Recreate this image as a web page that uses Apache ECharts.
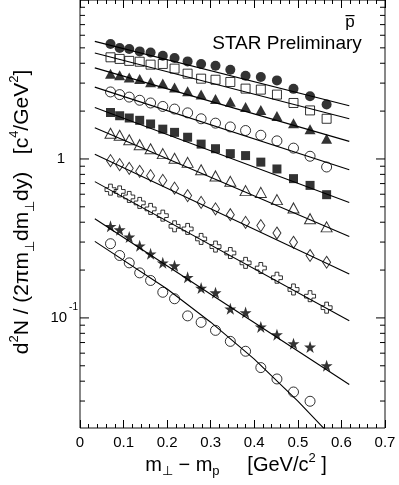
<!DOCTYPE html>
<html><head><meta charset="utf-8">
<script src="https://cdn.jsdelivr.net/npm/echarts@6/dist/echarts.min.js"></script>
<style>html,body{margin:0;padding:0;background:#fff}#c{width:399px;height:485px}</style>
</head><body><div id="c"></div>
<script>
// ---- data ----
const mtX = [0.070, 0.091, 0.113, 0.137, 0.162, 0.190, 0.217, 0.247, 0.278, 0.311, 0.345, 0.380, 0.415, 0.452, 0.490, 0.528, 0.566];
const s1 = [5.29, 4.99, 4.92, 4.75, 4.68, 4.46, 4.32, 4.11, 3.96, 3.86, 3.64, 3.34, 3.28, 3.12, 2.76, 2.48, 2.20];
const s2 = [4.36, 4.26, 4.14, 4.09, 3.92, 3.96, 3.70, 3.44, 3.20, 3.15, 3.05, 2.77, 2.73, 2.54, 2.25, 2.02, 1.79];
const s3 = [3.44, 3.36, 3.26, 3.18, 3.04, 2.98, 2.82, 2.67, 2.54, 2.38, 2.29, 2.12, 2.03, 1.86, 1.68, 1.54, 1.34];
const s4 = [2.64, 2.54, 2.45, 2.34, 2.25, 2.14, 2.06, 1.95, 1.79, 1.68, 1.59, 1.51, 1.41, 1.30, 1.17, 1.04, 0.89];
const s5 = [1.96, 1.87, 1.81, 1.75, 1.66, 1.54, 1.47, 1.37, 1.24, 1.16, 1.08, 1.05, 0.955, 0.865, 0.752, 0.682, 0.596];
const s6 = [1.45, 1.41, 1.32, 1.23, 1.16, 1.08, 1.01, 0.952, 0.856, 0.782, 0.723, 0.632, 0.616, 0.555, 0.492, 0.421, 0.374];
const s7 = [0.976, 0.921, 0.873, 0.836, 0.785, 0.733, 0.655, 0.588, 0.533, 0.485, 0.446, 0.399, 0.381, 0.342, 0.299, 0.247, 0.224];
const s8 = [0.641, 0.625, 0.577, 0.529, 0.485, 0.440, 0.377, 0.363, 0.314, 0.281, 0.256, 0.222, 0.206, 0.179, 0.151, 0.137, 0.116];
const s9 = [0.377, 0.359, 0.323, 0.284, 0.253, 0.222, 0.213, 0.180, 0.154, 0.144, 0.114, 0.108, 0.0878, 0.0785, 0.0689, 0.0657, 0.0501];
const s10 = [0.293, 0.247, 0.222, 0.192, 0.172, 0.145, 0.132, 0.103, 0.0938, 0.0835, 0.0712, 0.0617, 0.0487, 0.0413, 0.0342, 0.0299];

const fitX = [0.034, 0.618];
const fit1 = [5.49, 2.16];
const fit2 = [4.64, 1.79];
const fit3 = [3.74, 1.29];
const fit4 = [2.83, 0.855];
const fit5 = [2.11, 0.533];
const fit6 = [1.57, 0.325];
const fit7 = [1.07, 0.189];
const fit8 = [0.72, 0.096];
const fit9 = [0.421, 0.0381];
const fit10X = [0.034, 0.2, 0.3, 0.4, 0.5, 0.565];
const fit10 = [0.303, 0.152, 0.094, 0.055, 0.030, 0.0195];

const xTicks = [0, 0.1, 0.2, 0.3, 0.4, 0.5, 0.6, 0.7];
const yMin = 0.0203, yMax = 10;

// ---- styles ----
const FONT = "'Liberation Sans', Arial, Helvetica, sans-serif";
const STAR = 'path://M50,0 L61.8,35.1 L98.1,35.1 L68.6,56.9 L79.4,91.5 L50,70.2 L20.6,91.5 L31.4,56.9 L1.9,35.1 L38.2,35.1 Z';
const PLUS = 'path://M33,0 H67 V33 H100 V67 H67 V100 H33 V67 H0 V33 H33 Z';
const OPEN = {color: 'rgba(0,0,0,0)', borderColor: '#000', borderWidth: 1};
const FILL = {color: '#000', borderWidth: 0};

const markers = [
  {data: s1, symbol: 'circle', size: 10, st: FILL},
  {data: s2, symbol: 'rect', size: 9, st: OPEN},
  {data: s3, symbol: 'triangle', size: [11, 10], st: FILL},
  {data: s4, symbol: 'circle', size: 10, st: OPEN},
  {data: s5, symbol: 'rect', size: 9, st: FILL},
  {data: s6, symbol: 'triangle', size: [11, 10], st: OPEN},
  {data: s7, symbol: 'diamond', size: [8, 12], st: OPEN},
  {data: s8, symbol: PLUS, size: 11, st: OPEN},
  {data: s9, symbol: STAR, size: 12, st: FILL},
  {data: s10, symbol: 'circle', size: 10, st: OPEN}
];
const fits = [
  [fitX, fit1], [fitX, fit2], [fitX, fit3], [fitX, fit4], [fitX, fit5],
  [fitX, fit6], [fitX, fit7], [fitX, fit8], [fitX, fit9], [fit10X, fit10]
];

const zip = (xs, ys) => ys.map((y, i) => [xs[i], y]);

const series = [];
fits.forEach(([xs, ys]) => series.push({
  type: 'line', data: zip(xs, ys), showSymbol: false, symbol: 'none',
  lineStyle: {color: '#000', width: 1.1}, z: 2, silent: true, animation: false
}));
markers.forEach(m => series.push({
  type: 'scatter', data: zip(mtX, m.data), symbol: m.symbol, symbolSize: m.size,
  itemStyle: m.st, z: 3, silent: true, animation: false
}));

const chart = echarts.init(document.getElementById('c'), null, {renderer: 'canvas'});
const GL = 80, GR = 14, GT = 0, GB = 57;

const xCommon = {
  type: 'value', min: 0, max: 0.7, interval: 0.1,
  axisLine: {show: false}, splitLine: {show: false},
  axisTick: {show: true, inside: true, length: 8, lineStyle: {color: '#000', width: 1}},
  minorTick: {show: true, splitNumber: 5, length: 4, lineStyle: {color: '#000', width: 1}},
};

chart.setOption({
  animation: false,
  backgroundColor: '#fff',
  textStyle: {fontFamily: FONT},
  grid: {left: GL, right: GR, top: GT, bottom: GB, show: true, borderColor: '#111', borderWidth: 1, backgroundColor: 'transparent'},
  xAxis: [
    Object.assign({}, xCommon, {
      position: 'bottom',
      axisLabel: {show: true, fontSize: 15, color: '#000', margin: 7, fontFamily: FONT,
        formatter: v => String(Math.round(v * 10) / 10)}
    }),
    Object.assign({}, xCommon, {position: 'top', axisLabel: {show: false}})
  ],
  yAxis: {
    type: 'log', logBase: 10, min: yMin, max: yMax,
    axisLine: {show: false}, axisTick: {show: false}, splitLine: {show: false},
    axisLabel: {
      show: true, margin: 2, color: '#000', fontFamily: FONT, showMinLabel: true, showMaxLabel: true,
      formatter: v => {
        const l = Math.log10(v);
        if (Math.abs(l - Math.round(l)) > 1e-6) return '';
        const e = Math.round(l);
        if (e === 0) return '{one|1}';
        if (e === -1) return '{ten|10}{sup|-1}';
        return '';
      },
      rich: {
        one: {fontSize: 15, fontFamily: FONT, color: '#000', padding: [0, 13, 0, 0]},
        ten: {fontSize: 15, fontFamily: FONT, color: '#000', lineHeight: 32},
        sup: {fontSize: 10, fontFamily: FONT, color: '#000', lineHeight: 10, verticalAlign: 'top', padding: [0, 0, 0, 2]}
      }
    }
  },
  series: series
});

// ---- log minor ticks on left/right edges, placed through the axis scale ----
const gfx = [];
const W = chart.getWidth();
const xL = GL, xR = W - GR;
for (let d = -2; d <= 1; d++) {
  for (let k = 1; k <= 9; k++) {
    const v = k * Math.pow(10, d);
    if (v < yMin || v > yMax) continue;
    const py = chart.convertToPixel({yAxisIndex: 0}, v);
    const len = (k === 1) ? 9 : 5;
    gfx.push({type: 'line', silent: true, z: 10, shape: {x1: xL, y1: py, x2: xL + len, y2: py}, style: {stroke: '#000', lineWidth: 1}});
    gfx.push({type: 'line', silent: true, z: 10, shape: {x1: xR - len, y1: py, x2: xR, y2: py}, style: {stroke: '#000', lineWidth: 1}});
  }
}

// ---- texts ----
gfx.push({
  type: 'text', silent: true, z: 20, x: 287, y: 44,
  style: {text: 'STAR Preliminary', fontSize: 19, fontFamily: FONT, fill: '#000', align: 'center', verticalAlign: 'middle'}
});
gfx.push({
  type: 'text', silent: true, z: 20, x: 350, y: 22,
  style: {text: 'p', fontSize: 17, fontFamily: FONT, fill: '#000', align: 'center', verticalAlign: 'middle'}
});
gfx.push({
  type: 'rect', silent: true, z: 20, shape: {x: 345.5, y: 15, width: 9, height: 1.2}, style: {fill: '#000'}
});
gfx.push({
  type: 'text', silent: true, z: 20, x: 236, y: 465,
  style: {
    text: '{m|m}{b|⊥}{m| − m}{b|p}{m|     [GeV/c}{s|2}{m| ]}',
    align: 'center', verticalAlign: 'middle', fontFamily: FONT,
    rich: {
      m: {fontSize: 20, fontFamily: FONT, fill: '#000', lineHeight: 26},
      b: {fontSize: 13, fontFamily: FONT, fill: '#000', lineHeight: 13, verticalAlign: 'bottom'},
      s: {fontSize: 13, fontFamily: FONT, fill: '#000', lineHeight: 13, verticalAlign: 'top'}
    }
  }
});
gfx.push({
  type: 'text', silent: true, z: 20, x: 22, y: 212, rotation: Math.PI / 2,
  style: {
    text: '{m|d}{s|2}{m|N / (2πm}{b|⊥}{m|dm}{b|⊥}{m|dy)   [c}{s|4}{m|/GeV}{s|2}{m|]}',
    align: 'center', verticalAlign: 'middle', fontFamily: FONT,
    rich: {
      m: {fontSize: 21, fontFamily: FONT, fill: '#000', lineHeight: 29},
      b: {fontSize: 13, fontFamily: FONT, fill: '#000', lineHeight: 13, verticalAlign: 'bottom'},
      s: {fontSize: 13, fontFamily: FONT, fill: '#000', lineHeight: 13, verticalAlign: 'top'}
    }
  }
});

chart.setOption({graphic: {elements: gfx}});
</script>
</body></html>
